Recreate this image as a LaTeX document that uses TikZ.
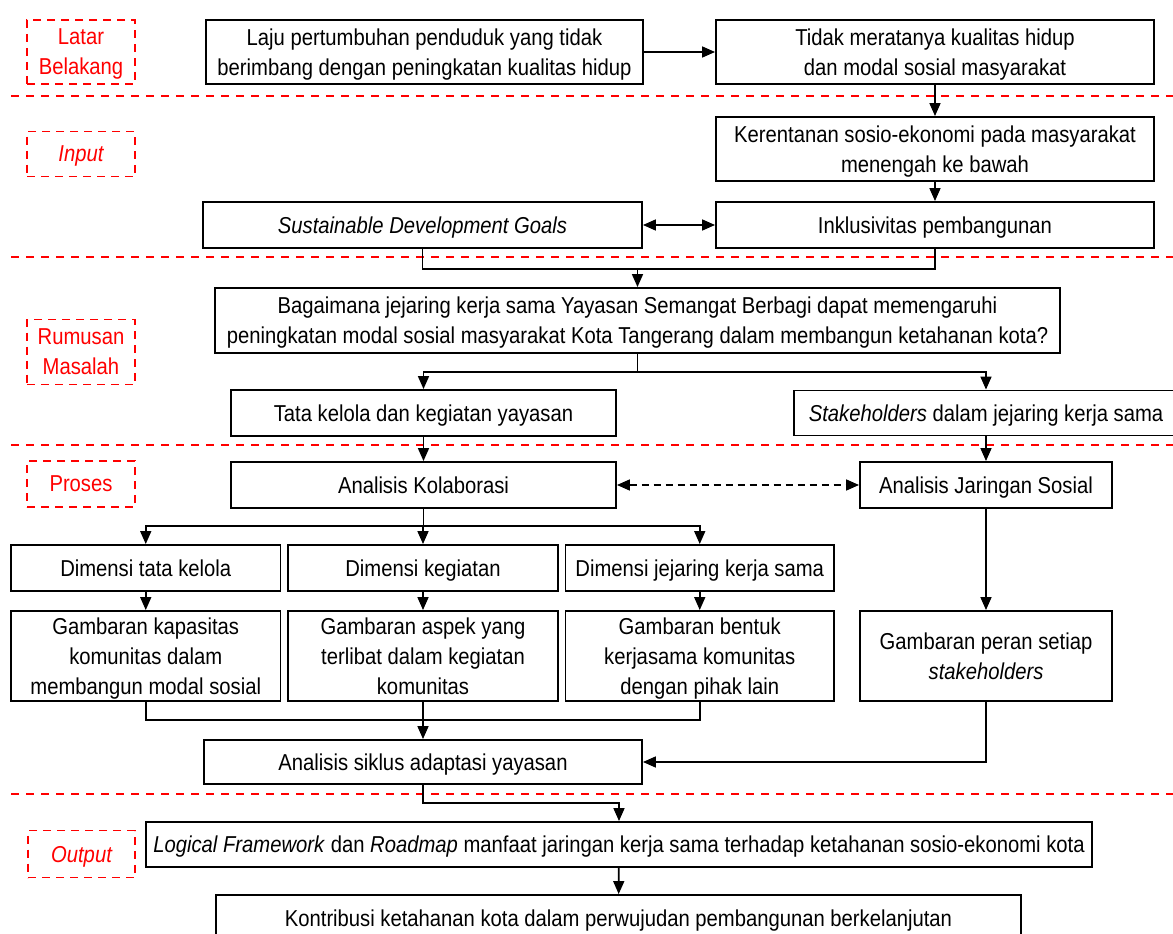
\documentclass[tikz,border=0pt]{standalone}
\usepackage{fontspec}
\setmainfont{Liberation Sans}[FakeStretch=0.88]
\usetikzlibrary{arrows.meta}
\begin{document}
\begin{tikzpicture}[x=1pt,y=-1pt,
  box/.style={draw=black,line width=1.9pt,inner sep=2pt,align=center,text depth=0pt,font=\fontsize{23}{30}\selectfont},
  lbl/.style={draw=red,text=red,line width=1.8pt,dash pattern=on 8pt off 6pt,inner sep=2pt,align=center,text depth=0pt,font=\fontsize{23}{30}\selectfont},
  sep/.style={red,line width=1.8pt,dash pattern=on 8pt off 7pt},
  con/.style={line width=1.7pt},
  arr/.style={con,-{Triangle[length=13pt,width=11pt]}},
  arrtwo/.style={con,{Triangle[length=13pt,width=11pt]}-{Triangle[length=13pt,width=11pt]}},
  darr/.style={arrtwo,dash pattern=on 7pt off 5pt}]
\useasboundingbox (0,0) rectangle (1173,934);
\fill[white] (0,0) rectangle (1173,934);

% separators
\draw[sep] (11,96) -- (1175,96);
\draw[sep] (11,257) -- (1175,257);
\draw[sep] (11,445) -- (1175,445);
\draw[sep] (11,794) -- (1175,794);

% labels
\node[lbl,minimum width=108pt,minimum height=64pt] (lb) at (81,52) {Latar\\Belakang};
\node[lbl,minimum width=108pt,minimum height=45pt] (inp) at (81,154) {\itshape Input};
\node[lbl,minimum width=108pt,minimum height=65pt] (rm) at (81,352) {Rumusan\\Masalah};
\node[lbl,minimum width=108pt,minimum height=46pt] (pr) at (81,484) {Proses};
\node[lbl,minimum width=107pt,minimum height=47pt] (outp) at (81.5,854) {\itshape Output};

% boxes
\node[box,minimum width=437pt,minimum height=64pt] (laju) at (424.5,52) {Laju pertumbuhan penduduk yang tidak\\berimbang dengan peningkatan kualitas hidup};
\node[box,minimum width=438pt,minimum height=64pt] (tidak) at (935,52) {Tidak meratanya kualitas hidup\\dan modal sosial masyarakat};
\node[box,minimum width=438pt,minimum height=64pt] (keren) at (935,149) {Kerentanan sosio-ekonomi pada masyarakat\\menengah ke bawah};
\node[box,minimum width=439pt,minimum height=46pt] (sdg) at (422.5,225) {\itshape Sustainable Development Goals};
\node[box,minimum width=438pt,minimum height=46pt] (inkl) at (935,225) {Inklusivitas pembangunan};
\node[box,minimum width=845pt,minimum height=65pt] (bag) at (637.5,320.5) {Bagaimana jejaring kerja sama Yayasan Semangat Berbagi dapat memengaruhi\\peningkatan modal sosial masyarakat Kota Tangerang dalam membangun ketahanan kota?};
\node[box,minimum width=385pt,minimum height=46pt] (tata) at (423.5,413) {Tata kelola dan kegiatan yayasan};
\node[box,minimum width=384pt,minimum height=45pt] (stake) at (986,413) {\textit{Stakeholders} dalam jejaring kerja sama};
\node[box,minimum width=385pt,minimum height=46pt] (ak) at (423.5,485) {Analisis Kolaborasi};
\node[box,minimum width=252pt,minimum height=46pt] (ajs) at (986,485) {Analisis Jaringan Sosial};
\node[box,minimum width=269.5pt,minimum height=46pt] (dtk) at (145.75,568) {Dimensi tata kelola};
\node[box,minimum width=269.5pt,minimum height=46pt] (dk) at (423,568) {Dimensi kegiatan};
\node[box,minimum width=268.5pt,minimum height=46pt] (dj) at (699.75,568) {Dimensi jejaring kerja sama};
\node[box,minimum width=269.5pt,minimum height=90pt] (gk) at (145.75,656) {Gambaran kapasitas\\komunitas dalam\\membangun modal sosial};
\node[box,minimum width=269.5pt,minimum height=90pt] (ga) at (423,656) {Gambaran aspek yang\\terlibat dalam kegiatan\\komunitas};
\node[box,minimum width=268.5pt,minimum height=90pt] (gb) at (699.75,656) {Gambaran bentuk\\kerjasama komunitas\\dengan pihak lain};
\node[box,minimum width=252pt,minimum height=90pt] (gp) at (986,656) {Gambaran peran setiap\\\textit{stakeholders}};
\node[box,minimum width=438pt,minimum height=44pt] (as) at (423,762) {Analisis siklus adaptasi yayasan};
\node[box,minimum width=946pt,minimum height=45pt] (lf) at (619,844.5) {\textit{Logical Framework} dan \textit{Roadmap} manfaat jaringan kerja sama terhadap ketahanan sosio-ekonomi kota};
\node[box,minimum width=805pt,minimum height=46pt] (kon) at (618.5,918) {Kontribusi ketahanan kota dalam perwujudan pembangunan berkelanjutan};

% junctions
\coordinate (j1) at (637.5,269);
\coordinate (j2) at (637.5,372);
\coordinate (j3) at (423.5,526);
\coordinate (j4) at (423,720);
\coordinate (j5) at (619,803);

% connectors
\draw[arr] (laju) -- (tidak);
\draw[arr] (tidak) -- (keren);
\draw[arr] (keren) -- (inkl);
\draw[arrtwo] (sdg) -- (inkl);
\draw[con] (sdg.south) |- (j1) -| (inkl.south);
\draw[arr] (j1) -- (bag.north);
\draw[con] (bag.south) -- (j2);
\draw[arr] (j2) -| (tata.north);
\draw[arr] (j2) -| (stake.north);
\draw[arr] (tata) -- (ak);
\draw[arr] (stake) -- (ajs);
\draw[darr] (ak) -- (ajs);
\draw[con] (ak.south) -- (j3);
\draw[arr] (j3) -| (dtk.north);
\draw[arr] (j3) -| (dk.north);
\draw[arr] (j3) -| (dj.north);
\draw[arr] (dtk) -- (gk);
\draw[arr] (dk) -- (ga);
\draw[arr] (dj) -- (gb);
\draw[arr] (ajs) -- (gp);
\draw[con] (gk.south) |- (j4) -| (gb.south);
\draw[arr] (ga.south) -- (as.north);
\draw[arr] (gp.south) |- (as.east);
\draw[arr] (as.south) |- (j5) -- (lf.north);
\draw[arr] (lf) -- (kon);
\end{tikzpicture}
\end{document}
